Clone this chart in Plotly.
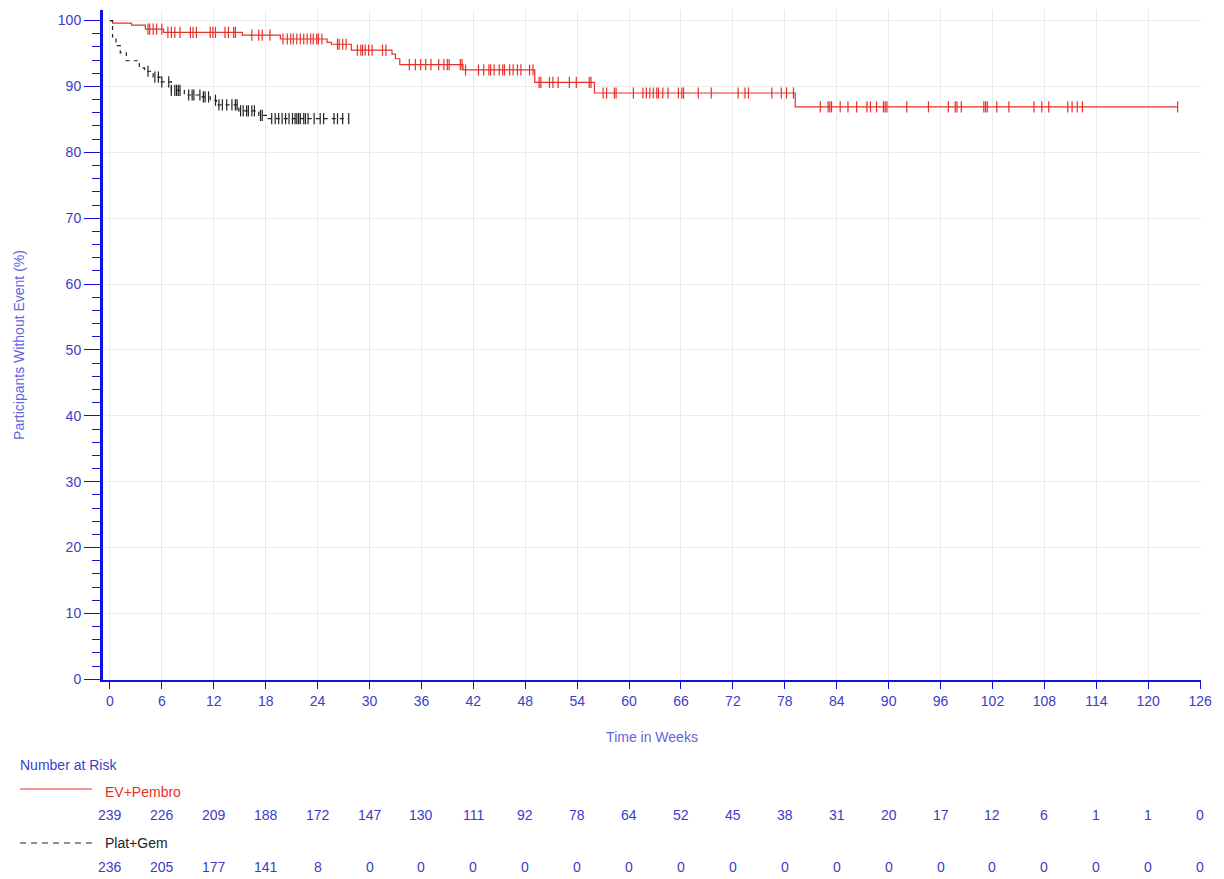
import numpy as np
import plotly.graph_objects as go

# ---------------- data ----------------
ep_times = [0, 0.3, 2.5, 4.1, 6.2, 15.3, 19.7, 25.1, 25.6, 27.9, 32.6, 33.0, 33.5, 40.8, 49.1, 56.0, 79.2, 123.4]
ep_surv = [100, 99.6, 99.3, 98.7, 98.2, 97.8, 97.2, 96.7, 96.4, 95.5, 94.9, 94.2, 93.3, 92.5, 90.6, 89.0, 86.9, 86.9]
ep_censor = [4.4, 4.6, 5.0, 5.4, 6.0, 6.7, 7.1, 7.5, 8.1, 9.3, 9.6, 10.0, 11.6, 11.9, 12.2, 13.3, 13.7,
             14.3, 14.5, 16.4, 17.2, 17.6, 18.5, 20.0, 20.5, 20.9, 21.2, 21.6, 22.0, 22.4, 22.8, 23.2,
             23.5, 23.9, 24.1, 24.5, 26.3, 26.5, 26.9, 27.3, 28.6, 29.0, 29.2, 29.5, 29.9, 30.3, 31.5,
             31.9, 34.6, 35.3, 35.9, 36.5, 37.1, 38.0, 38.6, 39.0, 39.2, 40.5, 40.7, 41.1, 42.6, 43.2,
             43.8, 44.0, 44.4, 45.0, 45.4, 45.6, 46.2, 46.6, 47.1, 47.5, 48.5, 48.9, 49.6, 49.8, 50.8,
             51.2, 51.8, 53.1, 53.9, 55.4, 55.6, 57.0, 57.4, 58.3, 58.5, 60.5, 61.6, 62.0, 62.4, 62.8,
             63.2, 63.4, 63.9, 64.5, 65.7, 66.1, 66.3, 68.0, 69.5, 72.6, 73.4, 73.8, 76.5, 77.6, 78.2,
             79.0, 82.1, 83.0, 83.2, 83.4, 84.4, 85.3, 86.3, 87.5, 87.9, 88.6, 89.4, 89.6, 89.8, 92.1,
             94.6, 96.9, 97.7, 97.9, 98.4, 101.0, 101.2, 101.4, 102.5, 103.9, 106.8, 107.7, 108.5,
             110.7, 111.2, 111.8, 112.4, 123.4]

pg_times = [0, 0.3, 0.7, 1.2, 1.9, 3.4, 4.0, 5.0, 5.8, 7.1, 8.6, 10.6, 11.6, 12.3, 14.9, 17.2, 18.2, 27.6]
pg_surv = [100, 97.5, 96.2, 95.1, 93.9, 92.8, 92.3, 91.4, 90.7, 89.4, 88.7, 88.4, 87.9, 87.2, 86.3, 85.6, 85.1, 85.1]
pg_censor = [4.4, 5.2, 5.6, 6.0, 6.8, 7.1, 7.5, 7.7, 7.9, 8.1, 9.1, 9.5, 9.7, 10.4, 10.8, 11.0, 11.4,
             12.2, 12.6, 13.0, 13.5, 14.1, 14.5, 14.7, 15.1, 15.4, 15.8, 16.0, 16.4, 16.7, 17.4, 17.6,
             18.7, 19.1, 19.5, 19.9, 20.3, 20.7, 21.1, 21.4, 21.6, 21.8, 22.0, 22.4, 22.6, 22.9, 23.6,
             24.3, 24.7, 25.9, 26.3, 26.9, 27.6]

x_ticks = list(range(0, 127, 6))
risk_ep = [239, 226, 209, 188, 172, 147, 130, 111, 92, 78, 64, 52, 45, 38, 31, 20, 17, 12, 6, 1, 1, 0]
risk_pg = [236, 205, 177, 141, 8, 0, 0, 0, 0, 0, 0, 0, 0, 0, 0, 0, 0, 0, 0, 0, 0, 0]

labels = ["EV+Pembro", "Plat+Gem"]

# ---------------- styling ----------------
RED = "#e8302a"
BLACK = "#222222"
BLUE_AXIS = "#1010e0"
BLUE_TXT = "#3c3cc8"
BLUE_TITLE = "#6464dc"
FONT = "Liberation Sans, Arial, sans-serif"


def step_value(times, surv, t):
    idx = np.searchsorted(np.array(times), np.array(t), side="right") - 1
    return list(np.array(surv)[idx])


fig = go.Figure()

fig.add_trace(go.Scatter(x=ep_times, y=ep_surv, mode="lines", line=dict(color=RED, width=1.2, shape="hv"),
                         name=labels[0], showlegend=False))
fig.add_trace(go.Scatter(x=ep_censor, y=step_value(ep_times, ep_surv, ep_censor), mode="markers",
                         marker=dict(symbol="line-ns", size=8, line=dict(color=RED, width=1.2)),
                         showlegend=False))
fig.add_trace(go.Scatter(x=pg_times, y=pg_surv, mode="lines",
                         line=dict(color=BLACK, width=1.2, shape="hv", dash="4px,4px"),
                         name=labels[1], showlegend=False))
fig.add_trace(go.Scatter(x=pg_censor, y=step_value(pg_times, pg_surv, pg_censor), mode="markers",
                         marker=dict(symbol="line-ns", size=8, line=dict(color=BLACK, width=1.2)),
                         showlegend=False))

# plot area geometry (pixels)
W, H = 1224, 879
ML, MR, MT, MB = 103, 23, 10, 199
PH = H - MT - MB
PW = W - ML - MR


def py(pix):
    return (H - MB - pix) / PH


def px(pix):
    return (pix - ML) / PW


annotations = []
for t, a, b in zip(x_ticks, risk_ep, risk_pg):
    annotations.append(dict(x=t, y=py(815), xref="x", yref="paper", text=str(a), showarrow=False,
                            xanchor="center", yanchor="middle", font=dict(color=BLUE_TXT, size=14, family=FONT)))
    annotations.append(dict(x=t, y=py(867), xref="x", yref="paper", text=str(b), showarrow=False,
                            xanchor="center", yanchor="middle", font=dict(color=BLUE_TXT, size=14, family=FONT)))

annotations.append(dict(x=px(18), y=py(765), xref="paper", yref="paper", text="Number at Risk", showarrow=False,
                        xanchor="left", yanchor="middle", font=dict(color=BLUE_TXT, size=14, family=FONT)))
annotations.append(dict(x=px(103), y=py(792), xref="paper", yref="paper", text=labels[0], showarrow=False,
                        xanchor="left", yanchor="middle", font=dict(color=RED, size=14, family=FONT)))
annotations.append(dict(x=px(103), y=py(843), xref="paper", yref="paper", text=labels[1], showarrow=False,
                        xanchor="left", yanchor="middle", font=dict(color=BLACK, size=14, family=FONT)))

shapes = [
    dict(type="line", xref="paper", yref="paper", x0=px(20), x1=px(92), y0=py(789), y1=py(789),
         line=dict(color=RED, width=1.2)),
    dict(type="line", xref="paper", yref="paper", x0=px(20), x1=px(92), y0=py(843), y1=py(843),
         line=dict(color=BLACK, width=1.2, dash="6px,5px")),
]

fig.update_layout(
    width=W, height=H,
    margin=dict(l=ML, r=MR, t=MT, b=MB),
    plot_bgcolor="white", paper_bgcolor="white",
    font=dict(family=FONT, size=14, color=BLUE_TXT),
    annotations=annotations,
    shapes=shapes,
    showlegend=False,
)

fig.update_xaxes(
    range=[-0.8, 126.1], tickvals=x_ticks, ticks="outside", ticklen=7, tickcolor=BLUE_AXIS, tickwidth=1,
    showline=True, linecolor=BLUE_AXIS, linewidth=2, showgrid=True, gridcolor="#ebebeb", gridwidth=1,
    zeroline=False, tickfont=dict(color=BLUE_TXT, size=14, family=FONT),
    title=dict(text="Time in Weeks", font=dict(color=BLUE_TITLE, size=14, family=FONT), standoff=24),
)
fig.update_yaxes(
    range=[-0.1, 101.6], tickvals=list(range(0, 101, 10)), ticks="outside", ticklen=16, tickcolor=BLUE_AXIS,
    tickwidth=1, minor=dict(dtick=2, ticks="outside", ticklen=8, tickcolor=BLUE_AXIS, showgrid=False),
    showline=True, linecolor=BLUE_AXIS, linewidth=3, showgrid=True, gridcolor="#ebebeb", gridwidth=1,
    zeroline=False, tickfont=dict(color=BLUE_TXT, size=14, family=FONT),
    title=dict(text="Participants Without Event (%)", font=dict(color=BLUE_TITLE, size=14, family=FONT),
               standoff=30),
)

fig.write_html("out.html")
